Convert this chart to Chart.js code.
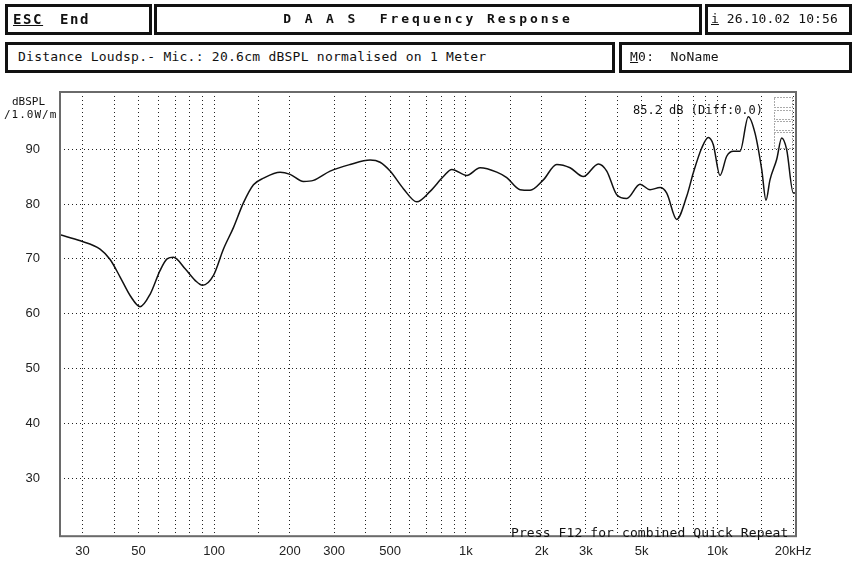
<!DOCTYPE html>
<html>
<head>
<meta charset="utf-8">
<script src="https://cdn.jsdelivr.net/npm/chart.js@4/dist/chart.umd.min.js"></script>
<style>
  html, body { margin:0; padding:0; background:#fff; }
  #wrap { position:relative; width:855px; height:564px; overflow:hidden; background:#fff; }
  canvas { position:absolute; left:0; top:0; }
  .box { position:absolute; box-sizing:border-box; border:3px solid #111; background:#fff; }
  .mono { position:absolute; font-family:"DejaVu Sans Mono", monospace; color:#111; white-space:pre; }
  .u { text-decoration:underline; }
</style>
</head>
<body>
<div id="wrap">
  <canvas id="c" width="855" height="564"></canvas>

  <div class="box" style="left:5px;top:4px;width:147px;height:31px;"></div>
  <div class="box" style="left:154px;top:4px;width:548px;height:31px;"></div>
  <div class="box" style="left:705px;top:4px;width:147px;height:31px;"></div>
  <div class="box" style="left:5px;top:42px;width:610px;height:31px;"></div>
  <div class="box" style="left:619px;top:42px;width:233px;height:31px;"></div>

  <div class="mono u" style="left:13px;top:11px;font-size:14px;font-weight:bold;letter-spacing:1.6px;">ESC</div>
  <div class="mono" style="left:60px;top:11px;font-size:14px;font-weight:bold;letter-spacing:1.6px;">End</div>
  <div class="mono" style="left:154px;top:11px;width:548px;text-align:center;font-size:13px;font-weight:bold;letter-spacing:2.9px;">D A A S  Frequency Response</div>
  <div class="mono" style="left:711px;top:11px;font-size:13px;letter-spacing:0.1px;"><span class="u">i</span> 26.10.02 10:56</div>
  <div class="mono" style="left:18px;top:49px;font-size:13px;letter-spacing:0.25px;">Distance Loudsp.- Mic.: 20.6cm dBSPL normalised on 1 Meter</div>
  <div class="mono" style="left:630px;top:49px;font-size:13px;letter-spacing:0.25px;"><span class="u">M</span>0:  NoName</div>

  <div class="mono" style="left:12px;top:95px;font-size:11px;letter-spacing:0px;">dBSPL</div>
  <div class="mono" style="left:4px;top:108px;font-size:11px;letter-spacing:1px;">/1.0W/m</div>

  <div class="mono" style="left:633px;top:103px;font-size:12px;">85.2 dB (Diff:0.0)</div>
  <div class="mono" style="left:511px;top:525px;font-size:13px;letter-spacing:0.1px;">Press F12 for combined Quick Repeat</div>
</div>
<script>
// ---- data ----
const freqHz = [24.4, 29.4, 35.2, 38.6, 42.3, 46.4, 50.8, 55.7, 61, 65, 68.9, 76.7, 84, 89.9, 99.4,
  108.9, 119.3, 130.7, 143.3, 157, 182.9, 200.4, 226.4, 248, 289, 347, 416.8, 456.6, 500.4, 565,
  638.9, 721.6, 814.7, 879.8, 1009, 1140, 1328, 1455, 1643, 1801, 2034, 2299, 2597, 2933, 3364,
  3633, 3980, 4362, 4926, 5398, 5916, 6290, 6892, 7551, 8024, 8663, 9203, 9632, 10240, 10890,
  11570, 12300, 13270, 14110, 15000, 15600, 16180, 17200, 18010, 18850, 20030, 20530];
const splDb = [74.4, 73.3, 71.8, 69.9, 66.7, 63.3, 61.3, 63.6, 67.9, 70, 70.3, 68.2, 66.1, 65.2, 67,
  71.8, 75.7, 80.2, 83.5, 84.7, 85.8, 85.4, 84.1, 84.3, 86, 87.2, 88, 87.6, 86, 82.8,
  80.4, 82.3, 85, 86.3, 85.2, 86.6, 85.8, 84.8, 82.6, 82.5, 84.4, 87.2, 86.6, 85, 87.3,
  86, 81.7, 81, 83.6, 82.6, 83, 82, 77.2, 81.4, 85.7, 90.2, 92.1, 90.8, 85.2, 88.7,
  89.6, 89.6, 95.9, 92.9, 86.3, 80.7, 84.4, 88.1, 92, 89.9, 82, 82];

const xGridValues = [30, 40, 50, 60, 70, 80, 90, 100, 150, 200, 300, 400, 500, 600, 700, 800, 900,
  1000, 1500, 2000, 3000, 4000, 5000, 6000, 7000, 8000, 9000, 10000, 15000, 20000];
const xTickLabels = ['30', '', '50', '', '', '', '', '100', '', '200', '300', '', '500', '', '', '', '',
  '1k', '', '2k', '3k', '', '5k', '', '', '', '', '10k', '', '20kHz'];
const yTickValues = [30, 40, 50, 60, 70, 80, 90];

const points = freqHz.map((f, i) => ({ x: f, y: splDb[i] }));

const frame = {
  id: 'frame',
  afterDatasetsDraw(chart) {
    const a = chart.chartArea, ctx = chart.ctx;
    ctx.save();
    ctx.strokeStyle = '#6a6a6a';
    ctx.lineWidth = 2;
    ctx.strokeRect(a.left, a.top, a.right - a.left, a.bottom - a.top);
    // small dotted marker boxes top right
    ctx.strokeStyle = '#555';
    ctx.lineWidth = 1;
    ctx.setLineDash([1, 2]);
    const bx = a.right - 22;
    [[97, 10], [110, 9], [121, 9], [132, 16]].forEach(([y, h]) => {
      ctx.strokeRect(bx + 0.5, y + 0.5, 18, h);
    });
    ctx.restore();
  }
};

new Chart(document.getElementById('c'), {
  type: 'line',
  data: {
    datasets: [{
      data: points,
      borderColor: '#111',
      borderWidth: 1.5,
      pointRadius: 0,
      fill: false,
      cubicInterpolationMode: 'monotone'
    }]
  },
  options: {
    responsive: false,
    animation: false,
    devicePixelRatio: 1,
    layout: { padding: { left: 0, right: 59, top: 92, bottom: 0 } },
    plugins: { legend: { display: false }, tooltip: { enabled: false } },
    scales: {
      x: {
        type: 'logarithmic',
        min: 24.4,
        max: 20530,
        afterBuildTicks(scale) { scale.ticks = xGridValues.map(v => ({ value: v })); },
        afterFit(scale) { scale.height = 25; },
        grid: { color: '#222', lineWidth: 1, drawTicks: false },
        border: { display: false, dash: [1, 3] },
        ticks: {
          autoSkip: false, maxRotation: 0, minRotation: 0, padding: 7,
          color: '#222', font: { family: 'Liberation Sans', size: 13 },
          callback: (v, i) => xTickLabels[i]
        }
      },
      y: {
        type: 'linear',
        min: 19.5,
        max: 100.4,
        afterBuildTicks(scale) { scale.ticks = yTickValues.map(v => ({ value: v })); },
        afterFit(scale) { scale.width = 60; },
        grid: { color: '#222', lineWidth: 1, drawTicks: false },
        border: { display: false, dash: [1, 3] },
        ticks: {
          padding: 20, color: '#222', font: { family: 'Liberation Sans', size: 13 },
          callback: v => String(v)
        }
      }
    }
  },
  plugins: [frame]
});
</script>
</body>
</html>
